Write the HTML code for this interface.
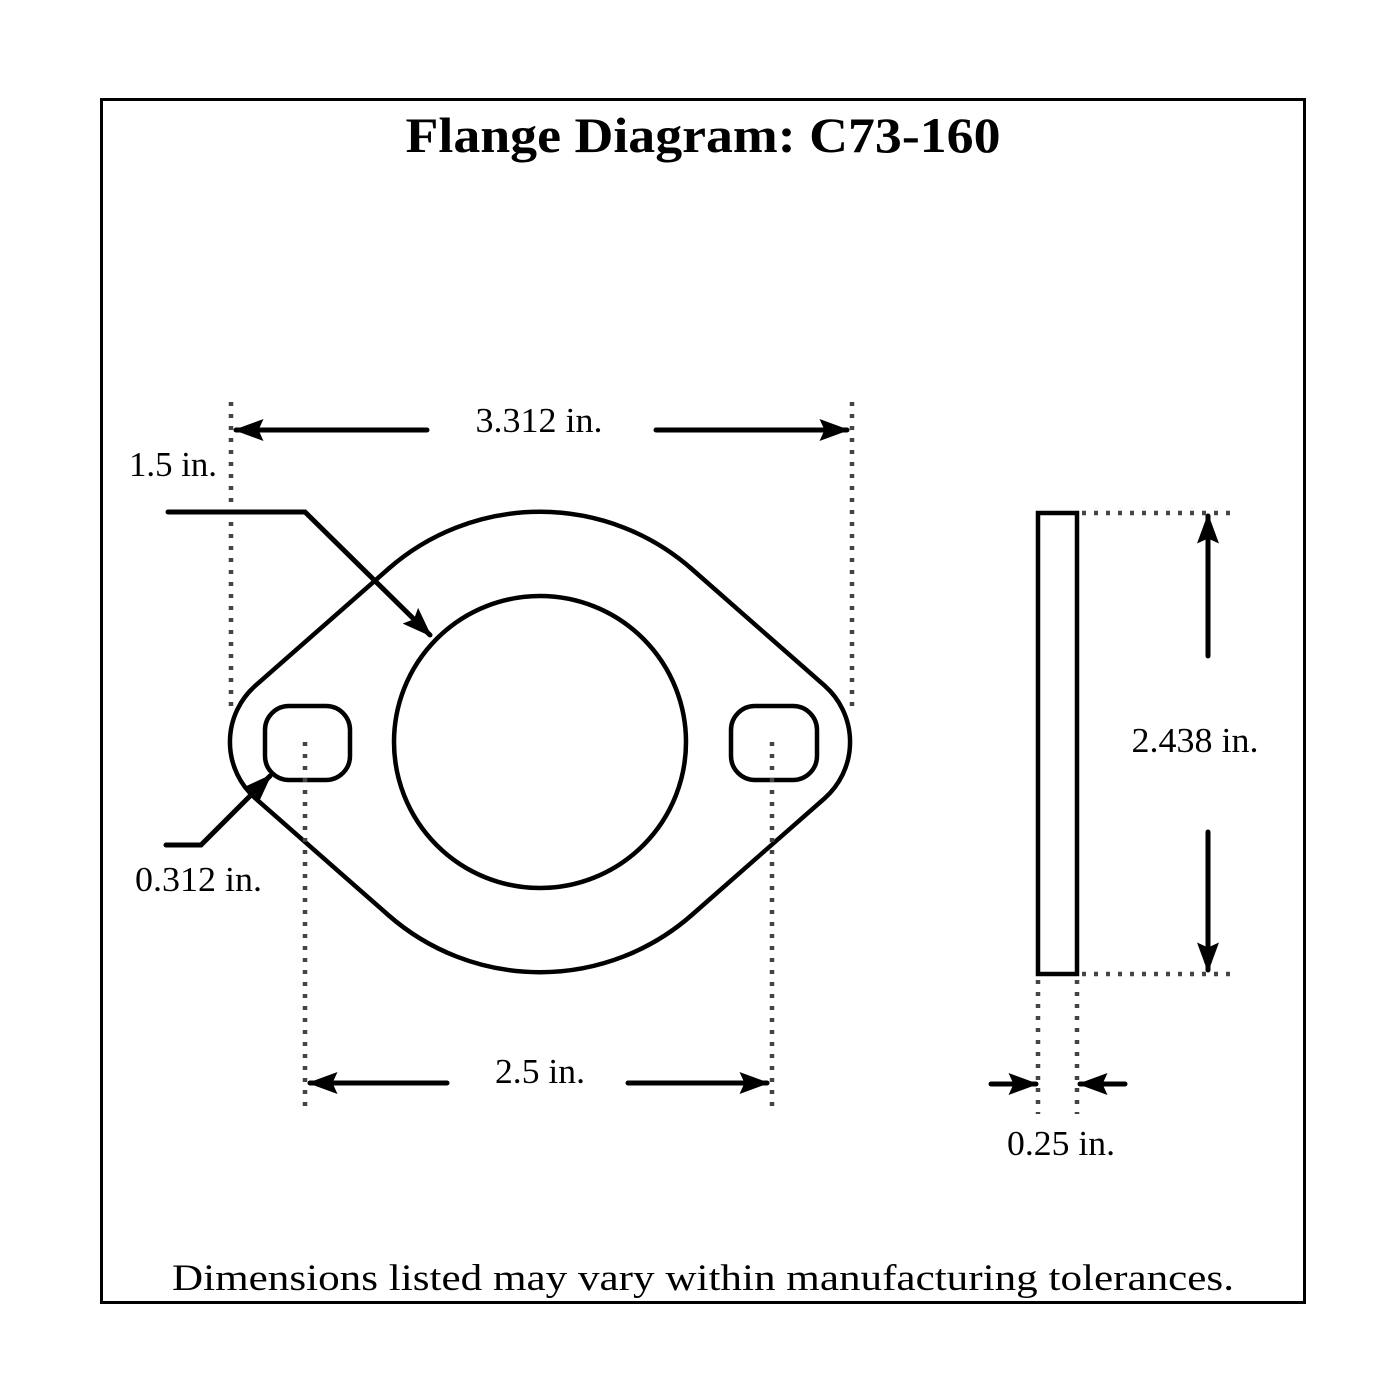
<!DOCTYPE html>
<html><head><meta charset="utf-8"><style>
html,body{margin:0;padding:0;background:#fff;}
svg{display:block;}
text{font-family:"Liberation Serif",serif;fill:#000;}
</style></head><body>
<svg width="1400" height="1400" viewBox="0 0 1400 1400" xmlns="http://www.w3.org/2000/svg">
<defs>
<marker id="ah" markerWidth="6" markerHeight="4.4" refX="5.5" refY="2.2" orient="auto" markerUnits="strokeWidth">
<path d="M0,0 L6,2.2 L0,4.4 L1,2.2 Z" fill="#000"/>
</marker>
</defs>
<rect x="101.5" y="99.5" width="1203" height="1203" fill="none" stroke="#000" stroke-width="3"/>
<text x="703" y="152" font-size="50" font-weight="bold" text-anchor="middle" textLength="595" lengthAdjust="spacingAndGlyphs">Flange Diagram: C73-160</text>

<path d="M 255.5 685.6 L 388.2 569 A 230 230 0 0 1 691.8 569 L 824.5 685.6 A 75 75 0 0 1 824.5 798.4 L 691.8 915 A 230 230 0 0 1 388.2 915 L 255.5 798.4 A 75 75 0 0 1 255.5 685.6 Z" fill="none" stroke="#000" stroke-width="4.5"/>
<circle cx="540" cy="742" r="146" fill="none" stroke="#000" stroke-width="4.5"/>
<rect x="265" y="706" width="85" height="74" rx="24" fill="none" stroke="#000" stroke-width="4.5"/>
<rect x="731" y="706" width="86" height="74" rx="24" fill="none" stroke="#000" stroke-width="4.5"/>

<g stroke="#444" stroke-width="4.5" stroke-dasharray="4 8" fill="none">
<line x1="231" y1="402" x2="231" y2="712"/>
<line x1="852" y1="402" x2="852" y2="712"/>
<line x1="305" y1="742" x2="305" y2="1114"/>
<line x1="772" y1="742" x2="772" y2="1114"/>
<line x1="1038" y1="980" x2="1038" y2="1114"/>
<line x1="1077" y1="980" x2="1077" y2="1114"/>
<line x1="1082" y1="513" x2="1238" y2="513"/>
<line x1="1082" y1="974" x2="1238" y2="974"/>
</g>

<g stroke="#000" stroke-width="5" stroke-linecap="round" fill="none">
<line x1="427" y1="430" x2="236" y2="430" marker-end="url(#ah)"/>
<line x1="656" y1="430" x2="847" y2="430" marker-end="url(#ah)"/>
<line x1="447" y1="1083" x2="310" y2="1083" marker-end="url(#ah)"/>
<line x1="628" y1="1083" x2="767" y2="1083" marker-end="url(#ah)"/>
<line x1="1208" y1="656" x2="1208" y2="516" marker-end="url(#ah)"/>
<line x1="1208" y1="832" x2="1208" y2="970" marker-end="url(#ah)"/>
<line x1="991" y1="1084" x2="1036" y2="1084" marker-end="url(#ah)"/>
<line x1="1125" y1="1084" x2="1080" y2="1084" marker-end="url(#ah)"/>
<polyline points="168,512 305,512 430,635" marker-end="url(#ah)"/>
<polyline points="166,845 201,845 270,776" marker-end="url(#ah)"/>
</g>

<rect x="1038" y="513" width="39" height="461" fill="none" stroke="#000" stroke-width="4.5"/>

<g font-size="35">
<text x="539" y="432" text-anchor="middle" textLength="127" lengthAdjust="spacingAndGlyphs">3.312 in.</text>
<text x="129" y="476" textLength="88" lengthAdjust="spacingAndGlyphs">1.5 in.</text>
<text x="135" y="891" textLength="127" lengthAdjust="spacingAndGlyphs">0.312 in.</text>
<text x="540" y="1083" text-anchor="middle" textLength="90" lengthAdjust="spacingAndGlyphs">2.5 in.</text>
<text x="1195" y="752" text-anchor="middle" textLength="127" lengthAdjust="spacingAndGlyphs">2.438 in.</text>
<text x="1061" y="1155" text-anchor="middle" textLength="108" lengthAdjust="spacingAndGlyphs">0.25 in.</text>
</g>
<text x="703" y="1290" font-size="37" text-anchor="middle" textLength="1062" lengthAdjust="spacingAndGlyphs">Dimensions listed may vary within manufacturing tolerances.</text>
</svg>
</body></html>
